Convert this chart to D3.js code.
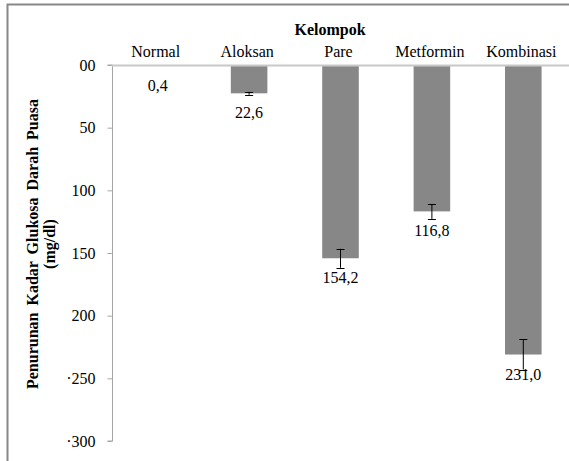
<!DOCTYPE html>
<html>
<head>
<meta charset="utf-8">
<script src="https://cdn.jsdelivr.net/npm/d3@7"></script>
<style>
  body { margin: 0; background: #fff; }
  svg text { font-family: "Liberation Serif", "Times New Roman", Tinos, "DejaVu Serif", serif !important; fill: #000; }
</style>
</head>
<body>
<div id="wrapper"></div>
<script>
const groups = ["Normal", "Aloksan", "Pare", "Metformin", "Kombinasi"];
const values = [0.4, 22.6, 154.2, 116.8, 231.0];
const errors = [0, 1.2, 7.6, 6.0, 12.0];
const labels = ["0,4", "22,6", "154,2", "116,8", "231,0"];
const tickValues = [0, 50, 100, 150, 200, 250, 300];
const tickLabels = ["00", "50", "100", "150", "200", "\u00b7250", "\u00b7300"];

const width = 569, height = 461;

const svg = d3.select("#wrapper")
  .append("svg")
  .attr("width", width)
  .attr("height", height);

// chart frame (only top and left edges show)
svg.append("path")
  .attr("d", `M7.5,${height} V4.5 H${width}`)
  .attr("fill", "none")
  .attr("stroke", "#888")
  .attr("stroke-width", 2);

const x = d3.scaleBand()
  .domain(groups)
  .range([112, 569]);

const y = d3.scaleLinear()
  .domain([0, 300])
  .range([65, 441]);

const barW = x.bandwidth() * 0.4;

// y axis
const yAxis = svg.append("g")
  .attr("transform", "translate(112.5,0)")
  .call(d3.axisLeft(y).tickValues(tickValues).tickSize(5).tickPadding(12)
    .tickFormat((d, i) => tickLabels[i]));
yAxis.attr("font-family", null).attr("font-size", null);
yAxis.selectAll("path, line").attr("stroke", "#a6a6a6");
yAxis.selectAll("text")
  .style("font-size", "16px")
  .attr("fill", "#000");
yAxis.select(".domain").attr("d", `M-5,${y(0)}H0V${y(300)}H-5`);

// bars
svg.selectAll("rect.bar")
  .data(groups)
  .enter()
  .append("rect")
  .attr("class", "bar")
  .attr("x", d => x(d) + (x.bandwidth() - barW) / 2)
  .attr("y", y(0))
  .attr("width", barW)
  .attr("height", (d, i) => y(values[i]) - y(0))
  .attr("fill", "#878787");

// top axis line
svg.append("line")
  .attr("x1", 112).attr("x2", width)
  .attr("y1", y(0) + 0.5).attr("y2", y(0) + 0.5)
  .attr("stroke", "#c8c8c8")
  .attr("stroke-width", 2);

// error bars
const err = svg.selectAll("g.err")
  .data(groups)
  .enter()
  .append("g")
  .attr("class", "err")
  .filter((d, i) => errors[i] > 0);
err.append("line")
  .attr("x1", d => x(d) + x.bandwidth() / 2)
  .attr("x2", d => x(d) + x.bandwidth() / 2)
  .attr("y1", d => y(values[groups.indexOf(d)] - errors[groups.indexOf(d)]))
  .attr("y2", d => y(values[groups.indexOf(d)] + errors[groups.indexOf(d)]))
  .attr("stroke", "#000");
err.selectAll("line.cap")
  .data(d => [-1, 1].map(s => ({ g: d, v: values[groups.indexOf(d)] + s * errors[groups.indexOf(d)] })))
  .enter()
  .append("line")
  .attr("class", "cap")
  .attr("x1", d => x(d.g) + x.bandwidth() / 2 - 4)
  .attr("x2", d => x(d.g) + x.bandwidth() / 2 + 4)
  .attr("y1", d => Math.round(y(d.v)) + 0.5)
  .attr("y2", d => Math.round(y(d.v)) + 0.5)
  .attr("stroke", "#000");

// value labels
svg.selectAll("text.val")
  .data(groups)
  .enter()
  .append("text")
  .attr("class", "val")
  .attr("x", d => x(d) + x.bandwidth() / 2)
  .attr("y", (d, i) => y(values[i]) + 25)
  .attr("text-anchor", "middle")
  .style("font-size", "16px")
  .text((d, i) => labels[i]);

// category labels
svg.selectAll("text.cat")
  .data(groups)
  .enter()
  .append("text")
  .attr("class", "cat")
  .attr("x", d => x(d) + x.bandwidth() / 2 - 2)
  .attr("y", 57)
  .attr("text-anchor", "middle")
  .style("font-size", "16px")
  .text(d => d);

// axis titles
svg.append("text")
  .attr("x", 330)
  .attr("y", 35)
  .attr("text-anchor", "middle")
  .style("font-size", "16px")
  .style("font-weight", "bold")
  .text("Kelompok");

const yTitle = svg.append("text")
  .attr("transform", "translate(38,244) rotate(-90)")
  .attr("text-anchor", "middle")
  .style("font-size", "16px")
  .style("font-weight", "bold")
  .style("word-spacing", "3px");
yTitle.append("tspan").attr("x", 0).attr("dy", 0).text("Penurunan Kadar Glukosa Darah Puasa");
yTitle.append("tspan").attr("x", 0).attr("dy", 17).text("(mg/dl)");
</script>
</body>
</html>
